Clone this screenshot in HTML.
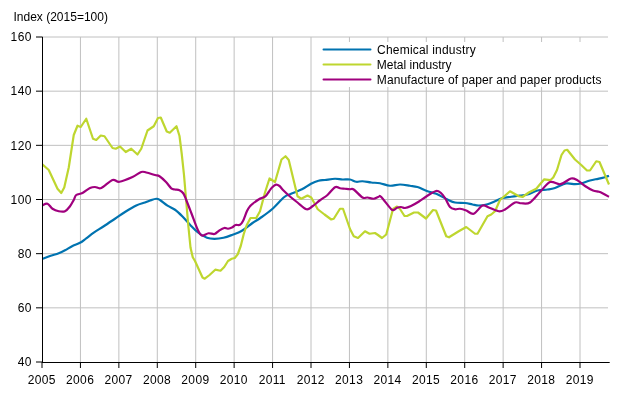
<!DOCTYPE html>
<html><head><meta charset="utf-8"><style>
html,body{margin:0;padding:0;background:#fff;width:620px;height:400px;overflow:hidden}
svg{display:block;will-change:transform;font-family:"Liberation Sans",sans-serif;font-size:12px}
</style></head><body>
<svg width="620" height="400" viewBox="0 0 620 400">
<defs><clipPath id="pc"><rect x="42" y="0" width="568" height="400"/></clipPath></defs>
<rect width="620" height="400" fill="#fff"/>
<text x="13.5" y="21" fill="#000">Index (2015=100)</text>
<g stroke="#c0c0c0" stroke-width="1" fill="none">
<line x1="42" y1="37.00" x2="608" y2="37.00"/>
<line x1="42" y1="91.17" x2="608" y2="91.17"/>
<line x1="42" y1="145.33" x2="608" y2="145.33"/>
<line x1="42" y1="199.50" x2="608" y2="199.50"/>
<line x1="42" y1="253.67" x2="608" y2="253.67"/>
<line x1="42" y1="307.83" x2="608" y2="307.83"/>
<line x1="80.43" y1="37" x2="80.43" y2="362"/>
<line x1="118.86" y1="37" x2="118.86" y2="362"/>
<line x1="157.29" y1="37" x2="157.29" y2="362"/>
<line x1="195.71" y1="37" x2="195.71" y2="362"/>
<line x1="234.14" y1="37" x2="234.14" y2="362"/>
<line x1="272.57" y1="37" x2="272.57" y2="362"/>
<line x1="311.00" y1="37" x2="311.00" y2="362"/>
<line x1="349.43" y1="37" x2="349.43" y2="362"/>
<line x1="387.86" y1="37" x2="387.86" y2="362"/>
<line x1="426.29" y1="37" x2="426.29" y2="362"/>
<line x1="464.71" y1="37" x2="464.71" y2="362"/>
<line x1="503.14" y1="37" x2="503.14" y2="362"/>
<line x1="541.57" y1="37" x2="541.57" y2="362"/>
<line x1="580.00" y1="37" x2="580.00" y2="362"/>
</g>
<rect x="314" y="42" width="296" height="45" fill="#fff"/>
<g fill="none" stroke-width="2.2" stroke-linejoin="round" stroke-linecap="butt" clip-path="url(#pc)">
<path d="M42 259 C43.33 258.50 47.21 256.97 50 256 C52.79 255.03 56.25 254.15 58.75 253.2 C61.25 252.25 62.71 251.50 65 250.3 C67.29 249.10 70.00 247.25 72.5 246 C75.00 244.75 77.71 244.08 80 242.8 C82.29 241.52 83.96 240.00 86.25 238.3 C88.54 236.60 90.83 234.61 93.75 232.6 C96.67 230.59 100.21 228.56 103.75 226.25 C107.29 223.94 111.46 221.12 115 218.75 C118.54 216.38 121.46 214.21 125 212 C128.54 209.79 132.92 207.08 136.25 205.5 C139.58 203.92 142.71 203.33 145 202.5 C147.29 201.67 148.12 201.12 150 200.5 C151.88 199.88 154.58 198.83 156.25 198.75 C157.92 198.67 158.12 198.84 160 200 C161.88 201.16 165.00 204.07 167.5 205.7 C170.00 207.32 172.50 207.95 175 209.75 C177.50 211.55 180.00 214.00 182.5 216.5 C185.00 219.00 187.42 222.08 190 224.75 C192.58 227.42 195.17 230.33 198 232.5 C200.83 234.67 204.25 236.70 207 237.75 C209.75 238.80 211.75 238.80 214.5 238.8 C217.25 238.80 220.50 238.43 223.5 237.75 C226.50 237.07 229.50 235.88 232.5 234.75 C235.50 233.62 238.17 232.96 241.5 231 C244.83 229.04 249.42 225.12 252.5 223 C255.58 220.88 256.75 220.54 260 218.25 C263.25 215.96 268.00 212.75 272 209.25 C276.00 205.75 281.00 199.75 284 197.25 C287.00 194.75 287.00 195.57 290 194.25 C293.00 192.93 298.50 191.05 302 189.3 C305.50 187.55 308.25 185.18 311 183.75 C313.75 182.32 316.17 181.38 318.5 180.75 C320.83 180.12 322.25 180.33 325 180 C327.75 179.67 332.08 178.83 335 178.75 C337.92 178.67 340.00 179.38 342.5 179.5 C345.00 179.62 347.71 179.12 350 179.5 C352.29 179.88 354.17 181.46 356.25 181.75 C358.33 182.04 360.00 181.12 362.5 181.25 C365.00 181.38 368.33 182.17 371.25 182.5 C374.17 182.83 376.88 182.71 380 183.25 C383.12 183.79 386.67 185.54 390 185.75 C393.33 185.96 396.67 184.50 400 184.5 C403.33 184.50 407.08 185.33 410 185.75 C412.92 186.17 414.58 186.08 417.5 187 C420.42 187.92 424.38 190.12 427.5 191.25 C430.62 192.38 432.92 192.38 436.25 193.75 C439.58 195.12 444.38 198.04 447.5 199.5 C450.62 200.96 452.08 201.92 455 202.5 C457.92 203.08 462.08 202.67 465 203 C467.92 203.33 470.21 204.08 472.5 204.5 C474.79 204.92 476.25 205.54 478.75 205.5 C481.25 205.46 484.79 204.96 487.5 204.25 C490.21 203.54 492.50 202.29 495 201.25 C497.50 200.21 499.79 198.75 502.5 198 C505.21 197.25 508.33 197.17 511.25 196.75 C514.17 196.33 517.29 195.88 520 195.5 C522.71 195.12 524.58 195.33 527.5 194.5 C530.42 193.67 534.17 191.33 537.5 190.5 C540.83 189.67 544.58 189.92 547.5 189.5 C550.42 189.08 551.92 189.00 555 188 C558.08 187.00 562.67 184.13 566 183.5 C569.33 182.87 572.50 184.20 575 184.2 C577.50 184.20 578.50 184.12 581 183.5 C583.50 182.88 587.17 181.28 590 180.5 C592.83 179.72 595.67 179.30 598 178.8 C600.33 178.30 602.17 178.00 604 177.5 C605.83 177.00 608.17 176.08 609 175.8" stroke="#0073b0"/>
<path d="M42 164 L48.75 170 L57.5 188.75 L61.25 193 L64.25 187.5 L68.75 167.5 L73.75 135 L77.5 125.75 L80.75 127 L86.25 118.75 L93 138.75 L96.25 140 L100.75 135.5 L104.5 136.25 L112.5 148 L115.75 148.75 L120 146.5 L125.75 152 L131.25 148.75 L137.5 154.5 L141.25 148.75 L147.5 130.5 L153.75 126.25 L158 118 L160.75 117.5 L166.75 131.5 L169.75 132.7 L176.5 126.25 L179.5 136 L181.75 154 L184 175 L188.25 225 L190.5 247.5 L192.75 257.25 L195 261 L202.5 277.5 L204.75 278.7 L209.25 275.25 L215.25 269.7 L220.5 270.75 L224.25 267 L228 261 L231.75 258.75 L234.75 258 L237.75 254.25 L240.75 246 L243.75 234 L246.75 225 L250.5 218 L256.25 218 L260 211.25 L265 192.5 L269.5 178.5 L275 182 L281.5 159.5 L285.5 156.25 L288.75 160 L297.5 196.25 L301.25 198.75 L307.5 195.5 L311.25 197.5 L317.75 209.25 L324.5 214.5 L331.25 219.5 L333.75 218.75 L340 208.75 L343 208.75 L350 229 L353.75 236.25 L358 238 L365 231.25 L369.5 233.75 L375 233 L378 235 L382 238 L386.25 234.5 L393 209 L397 206.5 L400 209 L404.5 216 L407.5 215.8 L414 212.5 L418 212.5 L426 218.5 L433 210 L436 210.5 L446.25 236.25 L449 237.3 L458.75 231.25 L466.25 227 L475 233.75 L477.5 233.75 L487.5 216.25 L491.25 214.5 L495 211.25 L500 200 L510 191.25 L518.75 196.25 L522.5 197 L528.75 192.5 L536.25 188.75 L544.25 179.3 L550.25 180.2 L553.25 177.5 L557 170 L561.5 155 L564.5 150.5 L567.2 149.75 L575 159.5 L581.25 165 L587 170.5 L590 170.5 L596.25 161.25 L599.5 162 L609 184.5" stroke="#bed62f"/>
<path d="M42 205.5 C42.92 205.21 45.75 203.21 47.5 203.75 C49.25 204.29 50.62 207.50 52.5 208.75 C54.38 210.00 56.67 210.83 58.75 211.25 C60.83 211.67 63.12 212.08 65 211.25 C66.88 210.42 68.54 208.12 70 206.25 C71.46 204.38 72.71 201.88 73.75 200 C74.79 198.12 74.79 196.17 76.25 195 C77.71 193.83 80.21 194.17 82.5 193 C84.79 191.83 87.92 189.00 90 188 C92.08 187.00 93.12 187.00 95 187 C96.88 187.00 98.33 189.17 101.25 188 C104.17 186.83 109.46 181.04 112.5 180 C115.54 178.96 116.17 182.25 119.5 181.75 C122.83 181.25 128.88 178.62 132.5 177 C136.12 175.38 138.96 172.75 141.25 172 C143.54 171.25 143.96 172.00 146.25 172.5 C148.54 173.00 152.79 174.38 155 175 C157.21 175.62 157.67 175.08 159.5 176.25 C161.33 177.42 164.04 179.99 166 182 C167.96 184.01 169.75 187.05 171.25 188.3 C172.75 189.55 173.62 189.18 175 189.5 C176.38 189.82 178.12 189.62 179.5 190.25 C180.88 190.88 182.12 191.62 183.25 193.25 C184.38 194.88 184.88 196.62 186.25 200 C187.62 203.38 189.62 208.62 191.5 213.5 C193.38 218.38 195.79 225.58 197.5 229.25 C199.21 232.92 199.92 234.83 201.75 235.5 C203.58 236.17 206.38 233.50 208.5 233.25 C210.62 233.00 212.75 234.43 214.5 234 C216.25 233.57 217.38 231.70 219 230.7 C220.62 229.70 222.75 228.32 224.25 228 C225.75 227.68 226.62 228.88 228 228.75 C229.38 228.62 231.25 227.88 232.5 227.25 C233.75 226.62 234.25 225.41 235.5 225 C236.75 224.59 238.75 225.47 240 224.8 C241.25 224.13 241.83 223.30 243 221 C244.17 218.70 245.83 213.45 247 211 C248.17 208.55 249.00 207.55 250 206.3 C251.00 205.05 251.50 204.67 253 203.5 C254.50 202.33 257.33 200.28 259 199.3 C260.67 198.32 261.83 198.18 263 197.6 C264.17 197.02 265.00 196.82 266 195.8 C267.00 194.78 268.00 192.88 269 191.5 C270.00 190.12 270.83 188.63 272 187.5 C273.17 186.37 274.75 184.95 276 184.7 C277.25 184.45 278.33 185.12 279.5 186 C280.67 186.88 281.25 188.25 283 190 C284.75 191.75 287.58 194.42 290 196.5 C292.42 198.58 294.75 200.38 297.5 202.5 C300.25 204.62 304.00 208.62 306.5 209.25 C309.00 209.88 310.25 207.75 312.5 206.25 C314.75 204.75 317.50 202.12 320 200.25 C322.50 198.38 325.00 197.18 327.5 195 C330.00 192.82 332.92 188.32 335 187.2 C337.08 186.07 338.33 187.99 340 188.25 C341.67 188.51 343.33 188.58 345 188.75 C346.67 188.92 348.54 189.12 350 189.25 C351.46 189.38 351.67 188.12 353.75 189.5 C355.83 190.88 360.21 196.17 362.5 197.5 C364.79 198.83 365.62 197.29 367.5 197.5 C369.38 197.71 371.88 198.88 373.75 198.75 C375.62 198.62 377.50 197.04 378.75 196.75 C380.00 196.46 379.21 194.96 381.25 197 C383.29 199.04 388.88 206.87 391 209 C393.12 211.13 393.00 210.00 394 209.8 C395.00 209.60 395.83 208.27 397 207.8 C398.17 207.33 399.67 206.97 401 207 C402.33 207.03 403.33 208.17 405 208 C406.67 207.83 408.67 207.08 411 206 C413.33 204.92 416.33 203.17 419 201.5 C421.67 199.83 424.17 197.75 427 196 C429.83 194.25 433.67 191.50 436 191 C438.33 190.50 439.50 191.83 441 193 C442.50 194.17 443.50 195.67 445 198 C446.50 200.33 448.33 205.12 450 207 C451.67 208.88 453.33 208.96 455 209.25 C456.67 209.54 458.12 208.54 460 208.75 C461.88 208.96 463.96 209.67 466.25 210.5 C468.54 211.33 471.04 214.58 473.75 213.75 C476.46 212.92 480.00 206.54 482.5 205.5 C485.00 204.46 486.04 206.54 488.75 207.5 C491.46 208.46 496.04 210.92 498.75 211.25 C501.46 211.58 502.29 210.96 505 209.5 C507.71 208.04 512.29 203.54 515 202.5 C517.71 201.46 518.75 203.25 521.25 203.25 C523.75 203.25 526.88 204.38 530 202.5 C533.12 200.62 536.67 195.42 540 192 C543.33 188.58 546.58 183.30 550 182 C553.42 180.70 557.00 184.78 560.5 184.2 C564.00 183.62 568.25 179.20 571 178.5 C573.75 177.80 574.67 178.75 577 180 C579.33 181.25 582.33 184.25 585 186 C587.67 187.75 590.67 189.53 593 190.5 C595.33 191.47 597.33 191.30 599 191.8 C600.67 192.30 601.33 192.67 603 193.5 C604.67 194.33 608.00 196.25 609 196.8" stroke="#a0007e"/>
</g>
<g stroke="#000" stroke-width="1" fill="none">
<line x1="42.5" y1="37" x2="42.5" y2="362.5"/>
<line x1="42" y1="362.5" x2="609.7" y2="362.5"/>
<line x1="36" y1="37.00" x2="42.5" y2="37.00"/>
<line x1="36" y1="91.17" x2="42.5" y2="91.17"/>
<line x1="36" y1="145.33" x2="42.5" y2="145.33"/>
<line x1="36" y1="199.50" x2="42.5" y2="199.50"/>
<line x1="36" y1="253.67" x2="42.5" y2="253.67"/>
<line x1="36" y1="307.83" x2="42.5" y2="307.83"/>
<line x1="36" y1="362.00" x2="42.5" y2="362.00"/>
<line x1="42.00" y1="362" x2="42.00" y2="368"/>
<line x1="80.43" y1="362" x2="80.43" y2="368"/>
<line x1="118.86" y1="362" x2="118.86" y2="368"/>
<line x1="157.29" y1="362" x2="157.29" y2="368"/>
<line x1="195.71" y1="362" x2="195.71" y2="368"/>
<line x1="234.14" y1="362" x2="234.14" y2="368"/>
<line x1="272.57" y1="362" x2="272.57" y2="368"/>
<line x1="311.00" y1="362" x2="311.00" y2="368"/>
<line x1="349.43" y1="362" x2="349.43" y2="368"/>
<line x1="387.86" y1="362" x2="387.86" y2="368"/>
<line x1="426.29" y1="362" x2="426.29" y2="368"/>
<line x1="464.71" y1="362" x2="464.71" y2="368"/>
<line x1="503.14" y1="362" x2="503.14" y2="368"/>
<line x1="541.57" y1="362" x2="541.57" y2="368"/>
<line x1="580.00" y1="362" x2="580.00" y2="368"/>
</g>
<g fill="#000">
<text x="31.7" y="41.30" text-anchor="end" letter-spacing="0.35">160</text>
<text x="31.7" y="95.47" text-anchor="end" letter-spacing="0.35">140</text>
<text x="31.7" y="149.63" text-anchor="end" letter-spacing="0.35">120</text>
<text x="31.7" y="203.80" text-anchor="end" letter-spacing="0.35">100</text>
<text x="31.7" y="257.97" text-anchor="end" letter-spacing="0.35">80</text>
<text x="31.7" y="312.13" text-anchor="end" letter-spacing="0.35">60</text>
<text x="31.7" y="366.30" text-anchor="end" letter-spacing="0.35">40</text>
<text x="41.70" y="384" text-anchor="middle" letter-spacing="0.35">2005</text>
<text x="80.13" y="384" text-anchor="middle" letter-spacing="0.35">2006</text>
<text x="118.56" y="384" text-anchor="middle" letter-spacing="0.35">2007</text>
<text x="156.99" y="384" text-anchor="middle" letter-spacing="0.35">2008</text>
<text x="195.41" y="384" text-anchor="middle" letter-spacing="0.35">2009</text>
<text x="233.84" y="384" text-anchor="middle" letter-spacing="0.35">2010</text>
<text x="272.27" y="384" text-anchor="middle" letter-spacing="0.35">2011</text>
<text x="310.70" y="384" text-anchor="middle" letter-spacing="0.35">2012</text>
<text x="349.13" y="384" text-anchor="middle" letter-spacing="0.35">2013</text>
<text x="387.56" y="384" text-anchor="middle" letter-spacing="0.35">2014</text>
<text x="425.99" y="384" text-anchor="middle" letter-spacing="0.35">2015</text>
<text x="464.41" y="384" text-anchor="middle" letter-spacing="0.35">2016</text>
<text x="502.84" y="384" text-anchor="middle" letter-spacing="0.35">2017</text>
<text x="541.27" y="384" text-anchor="middle" letter-spacing="0.35">2018</text>
<text x="579.70" y="384" text-anchor="middle" letter-spacing="0.35">2019</text>
</g>
<g stroke-width="2" stroke-linecap="round">
<line x1="323.5" y1="49.5" x2="370.5" y2="49.5" stroke="#0073b0"/>
<line x1="323.5" y1="64.5" x2="370.5" y2="64.5" stroke="#bed62f"/>
<line x1="323.5" y1="79.5" x2="370.5" y2="79.5" stroke="#a0007e"/>
</g>
<g fill="#000">
<text x="377.1" y="54" letter-spacing="0.2">Chemical industry</text>
<text x="376.8" y="69">Metal industry</text>
<text x="376.8" y="84" letter-spacing="0.1">Manufacture of paper and paper products</text>
</g>
</svg>
</body></html>
